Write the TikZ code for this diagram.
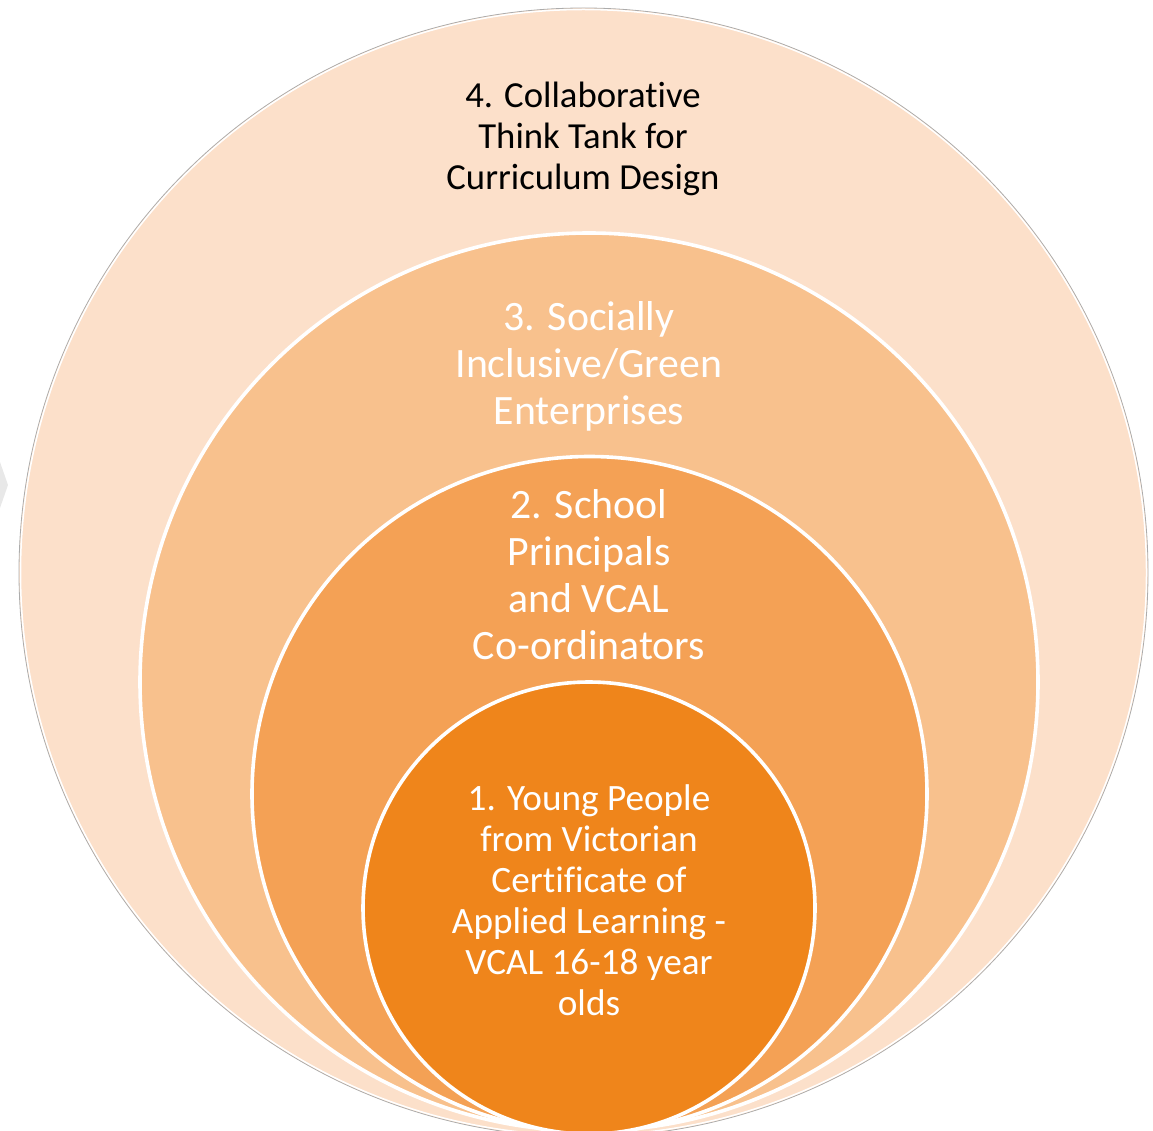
\documentclass[tikz,border=0pt]{standalone}
\usepackage{fontspec}
\setmainfont{Carlito}[Ligatures=NoCommon]
\definecolor{peach}{HTML}{FCE0CA}
\definecolor{apricot}{HTML}{F8C18D}
\definecolor{tangerine}{HTML}{F4A155}
\definecolor{pumpkin}{HTML}{EF851B}

\begin{document}
\begin{tikzpicture}[x=1pt, y=-1pt,
    ring/.style={circle, inner sep=0pt, draw=white, line width=3.6pt},
    lbl/.style={align=center, text=white, font=\fontsize{41.8}{47}\selectfont}]
    \useasboundingbox (0,0) rectangle (1153,1131);
    \clip (0,0) rectangle (1153,1131);
    \fill[gray!18] (0,462) -- (8,485) -- (0,508) -- cycle;

    % rings, outermost first
    \node[circle, inner sep=0pt, minimum size=1129pt, fill=peach, draw=gray!65, line width=0.8pt] (c4) at (583.5,572.5) {};
    \draw[white, line width=1.5pt] (c4.center) circle[radius=563pt];
    \node[ring, minimum size=898pt, fill=apricot] (c3) at (589,682) {};
    \node[ring, minimum size=675pt, fill=tangerine] (c2) at (589.5,794) {};
    \node[ring, minimum size=452pt, fill=pumpkin] (c1) at (589,908) {};

    \node[lbl, text=black, font=\fontsize{36.7}{41}\selectfont] (t4) at (583,138.5) {4. Collaborative\\Think Tank for\\Curriculum Design};
    \node[lbl] (t3) at (589,366) {3. Socially\\Inclusive/Green\\Enterprises};
    \node[lbl] (t2) at (589,575) {2. School\\Principals\\and VCAL\\Co-ordinators};
    \node[lbl, font=\fontsize{37.2}{41}\selectfont] (t1) at (589,900) {1. Young People\\from Victorian\\Certificate of\\Applied Learning -\\VCAL 16-18 year\\olds};
\end{tikzpicture}
\end{document}
